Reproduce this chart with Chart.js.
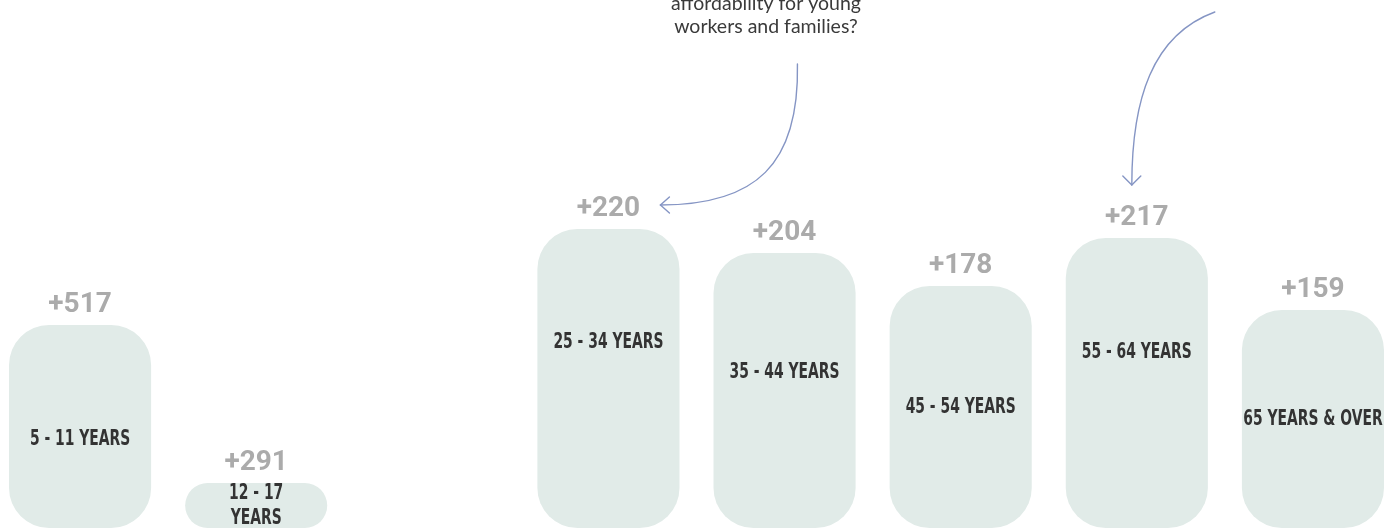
<!DOCTYPE html>
<html>
<head>
<meta charset="utf-8">
<script src="https://cdn.jsdelivr.net/npm/chart.js"></script>
<style>
  html, body { margin: 0; padding: 0; background: #fff; overflow: hidden; }
  #wrap { position: absolute; left: -8px; top: 0; width: 1409px; height: 530px; }
</style>
</head>
<body>
<div id="wrap"><canvas id="chartAges"></canvas></div>
<script>
// Age groups (18 - 24 has no bar in the original)
const ageGroups = ['5 - 11 YEARS', ['12 - 17', 'YEARS'], '18 - 24 YEARS', '25 - 34 YEARS',
                   '35 - 44 YEARS', '45 - 54 YEARS', '55 - 64 YEARS', '65 YEARS & OVER'];
// bar heights as drawn in the picture
const barHeights = [203, 45, null, 299, 275, 242, 290, 218];
// change labels printed above the bars
const changeLabels = ['+517', '+291', null, '+220', '+204', '+178', '+217', '+159'];
// annotation text (top line is cut off in the original)
const noteLines = ['affordability for young', 'workers and families?'];

// where the group label sits inside each bar (fraction from the top)
const labelPos = [0.56, 0.5, 0.5, 0.376, 0.43, 0.5, 0.39, 0.5];

const barLabels = {
    id: 'barLabels',
    afterDatasetsDraw(chart) {
        const ctx = chart.ctx;
        const meta = chart.getDatasetMeta(0);
        ctx.save();
        ctx.textAlign = 'center';
        // condensed look: squeeze the bold face so "25 - 34 YEARS" is ~109px wide
        ctx.font = 'bold 21px "DejaVu Sans", sans-serif';
        try { ctx.fontStretch = 'condensed'; } catch (e) {}
        const squeeze = Math.min(1, 110 / ctx.measureText('25 - 34 YEARS').width);
        meta.data.forEach((bar, i) => {
            if (barHeights[i] == null) return;
            // value above
            ctx.fillStyle = '#ababab';
            ctx.font = 'bold 28px Roboto, "Liberation Sans", sans-serif';
            try { ctx.fontStretch = 'normal'; } catch (e) {}
            ctx.textBaseline = 'alphabetic';
            ctx.fillText(changeLabels[i], bar.x, bar.y - 13);
            // group name inside
            const lines = Array.isArray(ageGroups[i]) ? ageGroups[i] : [ageGroups[i]];
            const cy = bar.y + (bar.base - bar.y) * labelPos[i];
            ctx.fillStyle = '#333333';
            ctx.font = 'bold 21px "DejaVu Sans", sans-serif';
            try { ctx.fontStretch = 'condensed'; } catch (e) {}
            ctx.textBaseline = 'middle';
            const lh = 25;
            lines.forEach((ln, k) => {
                const w = ctx.measureText(ln).width * squeeze;
                ctx.fillText(ln, bar.x, cy + (k - (lines.length - 1) / 2) * lh + 1, w);
            });
        });
        ctx.restore();
    }
};

const arrows = {
    id: 'arrows',
    afterDraw(chart) {
        const ctx = chart.ctx;
        const meta = chart.getDatasetMeta(0);
        const b25 = meta.data[3], b55 = meta.data[6];
        ctx.save();
        ctx.strokeStyle = '#8595c4';
        ctx.lineWidth = 1.4;
        ctx.lineCap = 'round';

        // arrow into "+220"
        const t1x = b25.x + 52, t1y = b25.y - 24;
        ctx.beginPath();
        ctx.moveTo(t1x + 137, 64);
        ctx.bezierCurveTo(t1x + 139, 165, t1x + 95, t1y, t1x, t1y);
        ctx.stroke();
        ctx.beginPath();
        ctx.moveTo(t1x + 9, t1y - 8);
        ctx.lineTo(t1x, t1y);
        ctx.lineTo(t1x + 9, t1y + 8);
        ctx.stroke();

        // arrow into "+217"
        const t2x = b55.x - 5, t2y = b55.y - 53;
        ctx.beginPath();
        ctx.moveTo(t2x + 83, 12);
        ctx.bezierCurveTo(t2x + 20, 35, t2x, 100, t2x, t2y);
        ctx.stroke();
        ctx.beginPath();
        ctx.moveTo(t2x - 9, t2y - 9);
        ctx.lineTo(t2x, t2y);
        ctx.lineTo(t2x + 9, t2y - 9);
        ctx.stroke();

        // note text, centred above the first arrow
        ctx.fillStyle = '#3a3a3a';
        ctx.font = '19.5px Lato, "Open Sans", sans-serif';
        ctx.textAlign = 'center';
        ctx.textBaseline = 'alphabetic';
        ctx.fillText(noteLines[0], 774, 10);
        ctx.fillText(noteLines[1], 774, 33);
        ctx.restore();
    }
};

new Chart(document.getElementById('chartAges').getContext('2d'), {
    type: 'bar',
    data: {
        labels: ageGroups,
        datasets: [{
            data: barHeights,
            backgroundColor: '#e1ebe8',
            borderWidth: 0,
            borderRadius: 40,
            borderSkipped: false,
            barPercentage: 142 / 176,
            categoryPercentage: 1
        }]
    },
    options: {
        responsive: true,
        maintainAspectRatio: false,
        animation: false,
        layout: { padding: { top: 0, bottom: 2, left: 0, right: 0 } },
        plugins: { legend: { display: false }, tooltip: { enabled: false } },
        scales: {
            x: { display: false },
            y: { display: false, min: 0, max: 528 }
        }
    },
    plugins: [barLabels, arrows]
});
</script>
</body>
</html>
